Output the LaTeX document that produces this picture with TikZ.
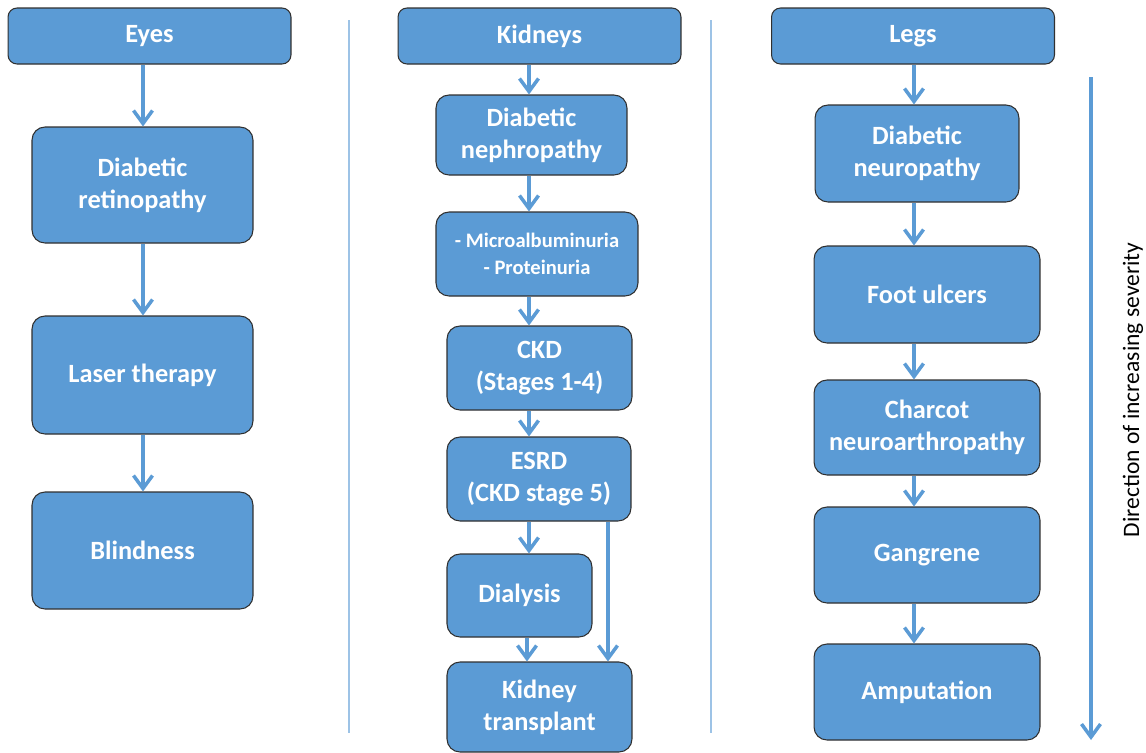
\documentclass[tikz,border=0pt]{standalone}
\usepackage{fontspec}
\setmainfont{Carlito}
\usetikzlibrary{arrows.meta}
\definecolor{boxblue}{HTML}{5B9BD5}
\definecolor{sepblue}{HTML}{9DC3E6}
\definecolor{edgegray}{HTML}{303030}

\begin{document}
\begin{tikzpicture}[x=0.02cm, y=-0.02cm,
	box/.style={draw=edgegray, line width=0.6pt, fill=boxblue, rounded corners=0.26cm,
		text=white, font=\fontsize{15}{18.4}\selectfont\bfseries, align=center, inner sep=0pt},
	head/.style={box, rounded corners=0.18cm, minimum width=5.66cm, minimum height=1.12cm},
	arr/.style={draw=boxblue, line width=2pt, -{Straight Barb[length=2.6mm,width=3.8mm]}},
	sep/.style={draw=sepblue, line width=0.7pt}]
			%%%%% START %%%%%
			
			\useasboundingbox (0,0) rectangle (1146,752);
			
			\draw[sep] (349, 20) -- (349, 733);
			\draw[sep] (711, 20) -- (711, 733);
			
			% eyes
			\node[head] (eyes) at (149.5, 36) {Eyes};
			\node[box, minimum width=4.42cm, minimum height=2.32cm] (retino) at (142.5, 185) {Diabetic\\retinopathy};
			\node[box, minimum width=4.42cm, minimum height=2.36cm] (laser) at (142.5, 375) {Laser therapy};
			\node[box, minimum width=4.42cm, minimum height=2.34cm] (blind) at (142.5, 550.5) {Blindness};
			
			\coordinate (eyex) at (143, 0);
			\draw[arr] (eyes.south -| eyex) -- (retino.north -| eyex);
			\draw[arr] (retino.south -| eyex) -- (laser.north -| eyex);
			\draw[arr] (laser.south -| eyex) -- (blind.north -| eyex);
			
			% kidneys
			\node[head] (kidneys) at (539.5, 36) {Kidneys};
			\node[box, minimum width=3.82cm, minimum height=1.6cm] (nephro) at (531.5, 135) {Diabetic\\nephropathy};
			\node[box, minimum width=4.04cm, minimum height=1.68cm, font=\fontsize{11.7}{15.5}\selectfont\bfseries] (micro) at (537, 254) {- Microalbuminuria\\- Proteinuria};
			\node[box, minimum width=3.7cm, minimum height=1.68cm] (ckd) at (539.5, 368) {CKD\\(Stages 1-4)};
			\node[box, minimum width=3.68cm, minimum height=1.68cm] (esrd) at (539, 479) {ESRD\\(CKD stage 5)};
			\node[box, minimum width=2.9cm, minimum height=1.66cm] (dialysis) at (519.5, 595.5) {Dialysis};
			\node[box, minimum width=3.7cm, minimum height=1.8cm] (transplant) at (539.5, 707) {Kidney\\transplant};
			
			\coordinate (kidx) at (529, 0);
			\coordinate (kidy) at (608, 0);
			\draw[arr] (kidneys.south -| kidx) -- (nephro.north -| kidx);
			\draw[arr] (nephro.south -| kidx) -- (micro.north -| kidx);
			\draw[arr] (micro.south -| kidx) -- (ckd.north -| kidx);
			\draw[arr] (ckd.south -| kidx) -- (esrd.north -| kidx);
			\draw[arr] (esrd.south -| kidx) -- (dialysis.north -| kidx);
			\draw[arr] ([xshift=-0.04cm]dialysis.south -| kidx) -- ([xshift=-0.04cm]transplant.north -| kidx);
			\draw[arr] (esrd.south -| kidy) -- (transplant.north -| kidy);
			
			% legs
			\node[head] (legs) at (913, 36) {Legs};
			\node[box, minimum width=4.08cm, minimum height=1.94cm] (neuro) at (917, 153.5) {Diabetic\\neuropathy};
			\node[box, minimum width=4.52cm, minimum height=1.94cm] (ulcer) at (927, 294.5) {Foot ulcers};
			\node[box, minimum width=4.52cm, minimum height=1.9cm] (charcot) at (927, 427.5) {Charcot\\neuroarthropathy};
			\node[box, minimum width=4.52cm, minimum height=1.92cm] (gangrene) at (927, 555) {Gangrene};
			\node[box, minimum width=4.52cm, minimum height=1.92cm] (amput) at (927, 692) {Amputation};
			
			\coordinate (legx) at (914, 0);
			\draw[arr] (legs.south -| legx) -- (neuro.north -| legx);
			\draw[arr] (neuro.south -| legx) -- (ulcer.north -| legx);
			\draw[arr] (ulcer.south -| legx) -- (charcot.north -| legx);
			\draw[arr] (charcot.south -| legx) -- (gangrene.north -| legx);
			\draw[arr] (gangrene.south -| legx) -- (amput.north -| legx);
			
			% severity
			\coordinate (sevtop) at (1091, 77);
			\coordinate (sevbot) at (1091, 740);
			\draw[arr] (sevtop) -- (sevbot);
			\node[rotate=90, font=\fontsize{13.4}{16}\selectfont, inner sep=0pt] (sevtext) at (1133, 390) {Direction of increasing severity};
			
			%%%%% END %%%%%
\end{tikzpicture}
\end{document}
